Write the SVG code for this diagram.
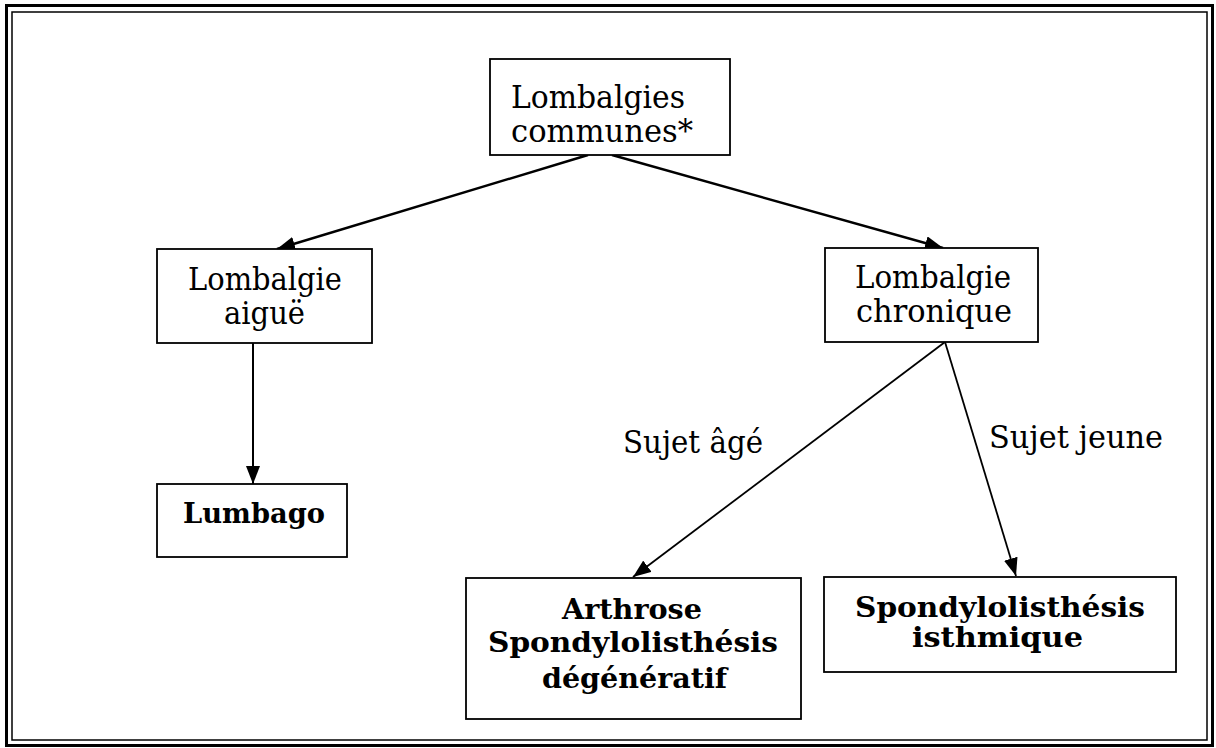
<svg xmlns="http://www.w3.org/2000/svg" width="1216" height="748" viewBox="0 0 1216 748">
<style>
.frame-outer{fill:none;stroke:#000;stroke-width:3}
.frame-inner{fill:none;stroke:#000;stroke-width:1.5}
.box{fill:#fff;stroke:#000;stroke-width:1.8}
.t{font-family:"DejaVu Serif","Liberation Serif",serif;font-size:31px;fill:#000}
.b{font-family:"DejaVu Serif","Liberation Serif",serif;font-size:28px;font-weight:bold;fill:#000}
.c{fill:none;stroke:#000}
</style>
<defs>
<marker id="ah" markerUnits="userSpaceOnUse" markerWidth="20" markerHeight="14" refX="18" refY="7" orient="auto" viewBox="0 0 20 14">
<path d="M0,0 L18,7 L0,14 z" fill="#000"/>
</marker>
</defs>
<rect width="1216" height="748" fill="#fff"/>
<rect class="frame-outer" x="6.5" y="5.5" width="1206" height="740"/>
<rect class="frame-inner" x="12" y="12" width="1195" height="728"/>
<g id="connectors">
<line class="c" stroke-width="2.4" x1="588" y1="155" x2="277" y2="249" marker-end="url(#ah)"/>
<line class="c" stroke-width="2.4" x1="612" y1="155" x2="943" y2="248" marker-end="url(#ah)"/>
<line class="c" stroke-width="2" x1="253" y1="343" x2="253" y2="484" marker-end="url(#ah)"/>
<line class="c" stroke-width="1.8" x1="945" y1="342" x2="633" y2="577" marker-end="url(#ah)"/>
<line class="c" stroke-width="1.8" x1="945" y1="342" x2="1016" y2="576" marker-end="url(#ah)"/>
<text class="t" x="623" y="453" textLength="140" lengthAdjust="spacingAndGlyphs">Sujet âgé</text>
<text class="t" x="989" y="448" textLength="174" lengthAdjust="spacingAndGlyphs">Sujet jeune</text>
</g>
<g id="lombalgies-communes">
<rect class="box" x="490" y="59" width="240" height="96"/>
<text class="t" x="511" y="108" textLength="174" lengthAdjust="spacingAndGlyphs">Lombalgies</text>
<text class="t" x="511" y="142" textLength="182" lengthAdjust="spacingAndGlyphs">communes*</text>
</g>
<g id="lombalgie-aigue">
<rect class="box" x="157" y="249" width="215" height="94"/>
<text class="t" x="188" y="290" textLength="154" lengthAdjust="spacingAndGlyphs">Lombalgie</text>
<text class="t" x="224" y="324" textLength="81" lengthAdjust="spacingAndGlyphs">aiguë</text>
</g>
<g id="lombalgie-chronique">
<rect class="box" x="825" y="248" width="213" height="94"/>
<text class="t" x="855" y="288" textLength="156" lengthAdjust="spacingAndGlyphs">Lombalgie</text>
<text class="t" x="856" y="322" textLength="156" lengthAdjust="spacingAndGlyphs">chronique</text>
</g>
<g id="lumbago">
<rect class="box" x="157" y="484" width="190" height="73"/>
<text class="b" x="183" y="523" textLength="142" lengthAdjust="spacingAndGlyphs">Lumbago</text>
</g>
<g id="arthrose">
<rect class="box" x="466" y="578" width="335" height="141"/>
<text class="b" x="562" y="619" textLength="140" lengthAdjust="spacingAndGlyphs">Arthrose</text>
<text class="b" x="488" y="652" textLength="290" lengthAdjust="spacingAndGlyphs">Spondylolisthésis</text>
<text class="b" x="542" y="688" textLength="185" lengthAdjust="spacingAndGlyphs">dégénératif</text>
</g>
<g id="spondylolisthesis-isthmique">
<rect class="box" x="824" y="577" width="352" height="95"/>
<text class="b" x="855" y="617" textLength="290" lengthAdjust="spacingAndGlyphs">Spondylolisthésis</text>
<text class="b" x="912" y="647" textLength="171" lengthAdjust="spacingAndGlyphs">isthmique</text>
</g>
</svg>
